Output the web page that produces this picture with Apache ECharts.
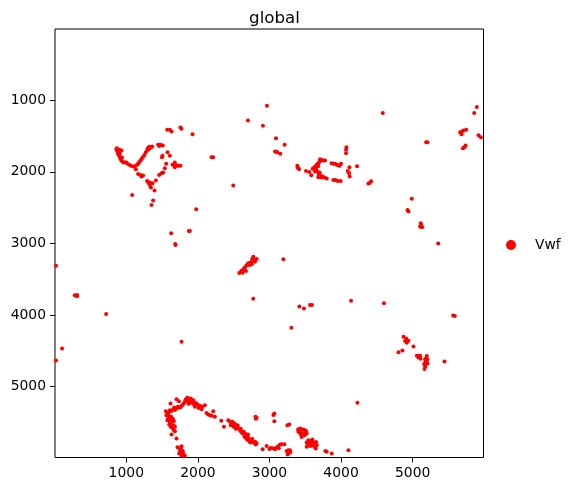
<!DOCTYPE html>
<html>
<head>
<meta charset="utf-8">
<style>
html,body{margin:0;padding:0;background:#fff}
#chart{width:576px;height:491px}
</style>
<script src="https://cdn.jsdelivr.net/npm/echarts@6/dist/echarts.min.js"></script>
</head>
<body>
<div id="chart"></div>
<script>
var tick_values = [1000, 2000, 3000, 4000, 5000];
var legend_name = 'Vwf';

// values, one array per region of the tissue
var upper_left = [[862,1683],[870,1670],[880,1690],[885,1701],[932,1701],[905,1690],[890,1730],[875,1715],[910,1735],[900,1762],[885,1750],[905,1785],[918,1809],[940,1800],[925,1825],[932,1841],[945,1855],[965,1869],[993,1865],[1010,1880],[1040,1902],[1065,1915],[1096,1925],[1120,1920],[1151,1902],[1165,1885],[1180,1865],[1195,1845],[1212,1823],[1230,1795],[1250,1767],[1270,1730],[1291,1701],[1310,1685],[1329,1669],[1345,1655],[1361,1645],[1300,1670],[1320,1650],[1445,1622],[1470,1620],[1492,1627],[1510,1630],[1460,1640],
[1571,1413],[1608,1413],[1632,1436],[1757,1380],[1771,1399],[1925,1473],[1576,1725],[1608,1776],[1506,1776],[1497,1795],[1557,1888],[1538,1949],[1515,2009],[1492,2019],[1459,2042],[1646,1902],[1678,1902],[1725,1916],[1757,1916],[1678,1869],[1678,1935],[1700,1910],[2191,1795],[2214,1795],[1165,2028],[1198,2042],[1235,2051],[1212,2065],[1133,1962],[1291,2126],[1315,2158],[1329,2182],[1366,2158],[1413,2121],[1343,2219],[1305,2140],[1330,2150],[1394,2261],[1082,2322],[1375,2401],[1352,2461],[2494,2191],[1977,2522],[1874,2825],[1888,2825],[1627,2858],[1688,3021],[1683,3007],[2699,1282],[2909,1357],[2965,1077]];

var upper_right = [[3091,1529],[3212,1622],[3077,1715],[3110,1725],[3152,1748],[3095,1720],[3389,1916],[3403,1949],[3413,1963],[3395,1935],[3510,1986],[3557,2000],[3585,2046],[3706,1823],[3730,1835],[3753,1841],[3776,1841],[3683,1879],[3660,1900],[3636,1925],[3604,1958],[3620,1945],[3650,1960],[3680,1920],[3700,1860],[3650,1930],[3636,1995],[3660,1985],[3683,2009],[3706,2042],[3683,2074],[3720,2060],[3743,2065],[3770,2080],[3800,2093],[3700,2010],[3690,2050],[3730,2080],[3869,1879],[3890,1885],[3916,1888],[3940,1900],[3963,1907],[4000,1888],[3980,1915],[3893,2112],[3925,2115],[3953,2126],[3995,2126],[4075,1655],[4070,1692],[4070,1739],[4117,1935],[4093,1986],[4112,2019],[4121,2065],[4224,1921],[4382,2163],[4400,2155],[4420,2130],[4583,1179],[4928,2531],[4942,2555],[4988,2377],[5189,1585],[5207,1585],[5114,2718],[5105,2765],[5133,2774],[5120,2745],[5664,1445],[5690,1435],[5711,1422],[5748,1412],[5683,1473],[5702,1669],[5739,1632],[5725,1655],[5860,1179],[5897,1095],[5921,1487],[5953,1515],[5357,3000]];

var middle = [[19,3310],[280,3725],[313,3720],[313,3739],[298,3730],[718,3986],[103,4466],[19,4634],[2578,3412],[2600,3400],[2611,3380],[2635,3360],[2658,3333],[2680,3305],[2704,3277],[2730,3270],[2751,3254],[2774,3184],[2760,3215],[2790,3225],[2821,3217],[2797,3254],[2751,3291],[2720,3300],[2672,3384],[2625,3408],[2650,3370],[3194,3221],[2774,3771],[3306,4177],[3418,3879],[3482,3909],[3566,3860],[3594,3860],[1772,4373],[4140,3800],[4600,3835],[5566,4005],[5590,4012]];

var lower_right = [[4872,4303],[4909,4326],[4918,4364],[4942,4359],[4895,4364],[4918,4387],[5012,4438],[4858,4494],[4802,4518],[5058,4569],[5105,4569],[5082,4592],[5110,4611],[5080,4570],[5198,4573],[5175,4620],[5207,4620],[5190,4600],[5180,4667],[5207,4676],[5190,4645],[5161,4685],[5175,4723],[5166,4755],[5175,4700],[5445,4648],[4228,5226],[4103,5888]];

var bottom_band = [[1553,5343],[1562,5399],[1585,5445],[1609,5492],[1632,5538],[1655,5585],[1679,5622],[1570,5360],[1590,5400],[1610,5450],[1620,5500],[1640,5570],[1600,5530],[1660,5540],[1575,5470],[1640,5480],[1620,5560],[1665,5610],[1609,5329],[1655,5315],[1702,5305],[1680,5325],[1630,5340],[1632,5669],[1702,5725],[1716,5846],[1772,5832],[1749,5888],[1795,5935],[1818,5967],[1739,5935],[1772,5967],[1760,5910],[1790,5900],[1760,5860],[1618,5235],[1702,5175],[1735,5203],[1758,5287],[1818,5212],[1851,5156],[1888,5165],[1912,5221],[1935,5189],[1850,5200],[1890,5230],[1870,5190],[1800,5240],[1960,5230],[1958,5282],[1982,5235],[2028,5268],[2000,5255],[2052,5315],[2098,5259],[2145,5389],[2191,5408],[2215,5343],[2238,5422],[2327,5478],[2364,5562],[2425,5468],[2450,5490],[2471,5515],[2495,5530],[2518,5538],[2540,5560],[2564,5585],[2597,5622],[2500,5560],[2460,5540],[2530,5590],[2580,5590],[2658,5655],[2640,5630],[2670,5690],[2690,5702],[2710,5720],[2727,5748],[2750,5760],[2774,5781],[2807,5809],[2700,5670],[2650,5700],[2730,5780],[2790,5770],[2821,5436],[2805,5420],[2810,5450],[3068,5375],[3055,5395],[3068,5482],[3250,5538],[3278,5529],[2905,5874],[2961,5828],[3017,5856],[3000,5870],[3077,5874],[3050,5860],[3124,5828],[3100,5850],[3170,5804],[3208,5804],[3264,5888],[3287,5888],[3254,5949],[3270,5920],[3404,5632],[3427,5585],[3497,5608],[3450,5702],[3430,5650],[3470,5650],[3520,5655],[3450,5600],[3400,5600],[3490,5680],[3544,5748],[3520,5841],[3590,5772],[3613,5818],[3651,5772],[3646,5865],[3560,5790],[3520,5780],[3630,5840],[3600,5740],[3570,5830],[3800,5911],[3780,5900],[3870,5935],
[1590,5360],[1625,5420],[1650,5450],[1600,5420],[1680,5560],[1665,5480],[1740,5290],[1720,5280],[1670,5290],[1780,5260],[1830,5180],[1870,5240],[1905,5170],[1945,5250],[2010,5300],[2060,5280],[2120,5370],[2170,5400],[2480,5490],[2510,5510],[2555,5540],[2600,5590],[2620,5650],[2680,5730],[2700,5750],[2760,5730],[2800,5770],[2820,5790],[3130,5860],[3150,5810],[3240,5900],[3290,5920],[3420,5620],[3470,5600],[3510,5620],[3440,5670],[3560,5760],[3540,5800],[3620,5780],[3660,5820],[3640,5790],[3590,5810]];

var vwf_points = upper_left.concat(upper_right, middle, lower_right, bottom_band);

var chart = echarts.init(document.getElementById('chart'));

var axis_common = {
	type: 'value',
	min: 4,
	max: 5990,
	splitLine: {show: false},
	axisLine: {show: false},
	axisTick: {show: true, customValues: tick_values, length: 5, lineStyle: {color: '#000', width: 1}},
	axisLabel: {
		show: true,
		customValues: tick_values,
		formatter: function (v) { return String(v); },
		color: '#000',
		fontFamily: 'DejaVu Sans',
		fontSize: 13.9,
		margin: 9,
		hideOverlap: false
	}
};

var option = {
	animation: false,
	backgroundColor: '#fff',
	title: {
		text: 'global',
		left: 269.5,
		top: 5,
		textAlign: 'center',
		textStyle: {color: '#000', fontFamily: 'DejaVu Sans', fontSize: 16.67, fontWeight: 'normal'}
	},
	legend: {
		left: 506,
		top: 238,
		padding: 0,
		icon: 'circle',
		itemWidth: 10,
		itemHeight: 10,
		data: [legend_name],
		textStyle: {color: '#000', fontFamily: 'DejaVu Sans', fontSize: 13.9, padding: [0, 0, 0, 14]}
	},
	grid: {left: 55, right: 92.5, top: 29, bottom: 33.5, show: true, borderColor: '#000', borderWidth: 1, backgroundColor: 'transparent'},
	xAxis: Object.assign({}, axis_common),
	yAxis: Object.assign({}, axis_common, {inverse: true}),
	series: [{
		name: legend_name,
		type: 'scatter',
		data: vwf_points,
		symbol: 'circle',
		symbolSize: 4,
		itemStyle: {color: '#ff0000', opacity: 1}
	}]
};
chart.setOption(option);
</script>
</body>
</html>
